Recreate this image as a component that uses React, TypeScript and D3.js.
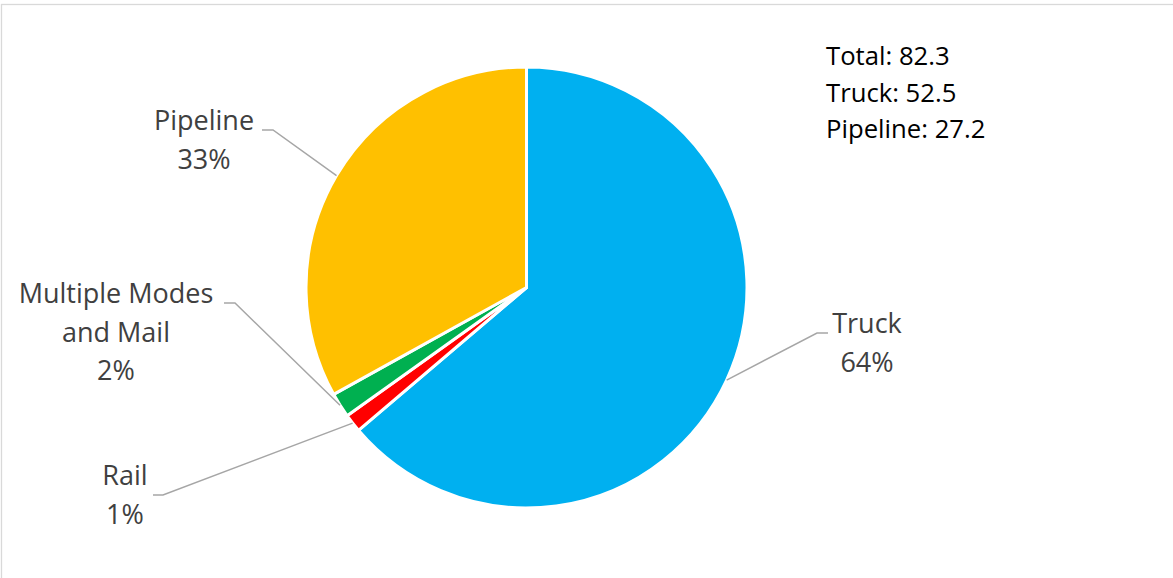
import React from "react";
import * as d3 from "d3";

const categories = ["Truck", "Rail", "Multiple Modes and Mail", "Pipeline"];
const values = [52.5, 1.1, 1.5, 27.2];
const colors = ["#00B0F0", "#FF0000", "#00B050", "#FFC000"];
const labelLines = [["Truck"], ["Rail"], ["Multiple Modes", "and Mail"], ["Pipeline"]];
const summaryNames = ["Total", "Truck", "Pipeline"];

// layout of labels (center x, first baseline y, elbow x, end x, leader y)
const labelLayout = [
  { cx: 867, by: 333, elbowX: 817, endX: 828, ly: 333 },
  { cx: 125, by: 485, elbowX: 163, endX: 153, ly: 495 },
  { cx: 116, by: 303, elbowX: 235, endX: 224, ly: 303 },
  { cx: 204, by: 130, elbowX: 273, endX: 262, ly: 130 },
];

const W = 1173;
const H = 578;
const CX = 526.5;
const CY = 287.5;
const R = 220.5;
const FONT = "'Open Sans', Lato, sans-serif";

export default function App() {
  const total = d3.sum(values);
  const pie = d3.pie<number>().sort(null).value((d) => d)(values);
  const arc = d3.arc<d3.PieArcDatum<number>>().innerRadius(0).outerRadius(R);
  const pct = (v: number) => `${Math.round((v / total) * 100)}%`;
  const summaryVals = [total, values[0], values[3]];
  const lh = 38.5;

  return (
    <svg
      width={W}
      height={H}
      style={{ position: "absolute", left: 0, top: 0, background: "#fff" }}
      fontFamily={FONT}
    >
      <rect x={1.5} y={4.5} width={W + 10} height={H + 10} fill="#fff" stroke="#D9D9D9" strokeWidth={1.3} />
      <g transform={`translate(${CX},${CY})`}>
        {pie.map((d, i) => (
          <path key={i} d={arc(d) || ""} fill={colors[i]} stroke="#fff" strokeWidth={3} strokeLinejoin="round" />
        ))}
      </g>
      {pie.map((d, i) => {
        const mid = (d.startAngle + d.endAngle) / 2;
        const px = CX + R * Math.sin(mid);
        const py = CY - R * Math.cos(mid);
        const L = labelLayout[i];
        const lines = [...labelLines[i], pct(values[i])];
        return (
          <g key={"l" + i}>
            <polyline
              points={`${px},${py} ${L.elbowX},${L.ly} ${L.endX},${L.ly}`}
              fill="none"
              stroke="#A6A6A6"
              strokeWidth={1.5}
            />
            <text textAnchor="middle" fontSize={27} fill="#404040">
              {lines.map((t, j) => (
                <tspan key={j} x={L.cx} y={L.by + j * lh}>
                  {t}
                </tspan>
              ))}
            </text>
          </g>
        );
      })}
      <text fontSize={25.7} fill="#000">
        {summaryNames.map((n, j) => (
          <tspan key={j} x={826} y={65 + j * 36.5}>
            {`${n}: ${summaryVals[j].toFixed(1)}`}
          </tspan>
        ))}
      </text>
    </svg>
  );
}
